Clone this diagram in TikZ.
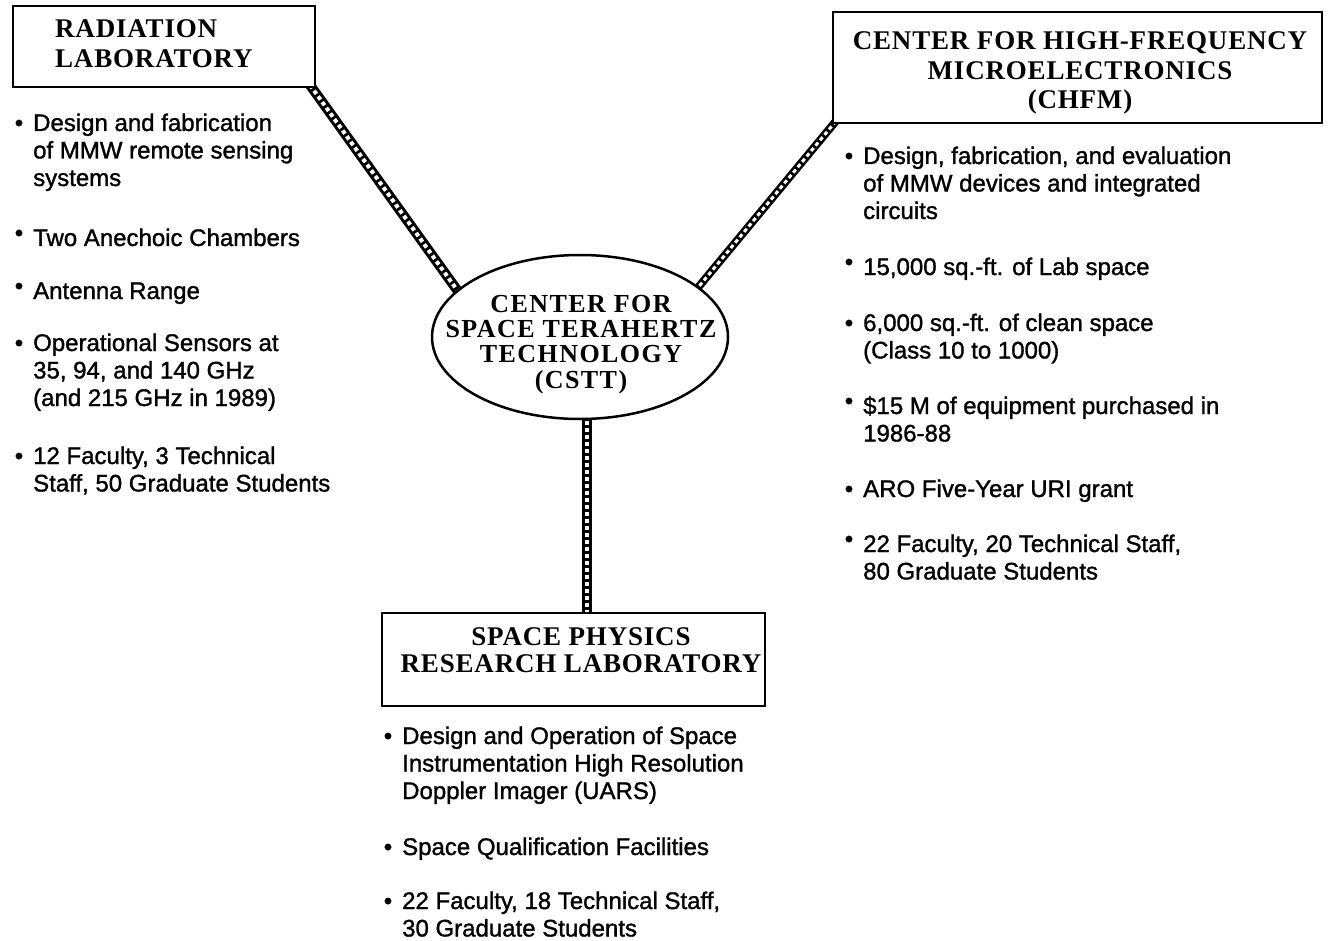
\documentclass[tikz,border=0pt]{standalone}
\usepackage{fontspec}
\setmainfont{Liberation Serif}
\newfontfamily\bodyfont{Liberation Sans}[FakeBold=1.3]
\newfontfamily\headfont{Liberation Serif}[LetterSpace=3]
\newfontfamily\ellfont{Liberation Serif}[LetterSpace=5.5]
\usetikzlibrary{shapes.geometric,calc}
\pgfdeclarelayer{bg}\pgfsetlayers{bg,main}
\tikzset{
  hbox/.style={draw, line width=2pt, fill=white, inner sep=0pt},
  head/.style={inner sep=0pt, align=center, font=\headfont\bfseries\fontsize{27}{29.5}\selectfont},
  item/.style={anchor=base west, inner sep=0pt, align=left, font=\bodyfont\fontsize{24}{27.5}\selectfont},
  railout/.style={line width=#1, draw=black},
  railin/.style={line width=#1, draw=white, dash pattern=on 4pt off 3pt},
}
\newcommand\bu{\llap{\textbullet\hspace{10pt}}}
\newcommand\bur{\llap{\raisebox{5pt}{\textbullet}\hspace{10pt}}}
\begin{document}
\begin{tikzpicture}[x=1pt,y=-1pt]
\useasboundingbox (0,0) rectangle (1329,941);
% boxes (text nodes anchored at the baseline of their last line)
\node[hbox, minimum width=302pt, minimum height=81pt] (rad) at (164,46.5) {};
\node[head, anchor=base west, align=left] (radT) at (55,67.5) {RADIATION\\LABORATORY};
\node[hbox, minimum width=489pt, minimum height=111pt] (chfm) at (1077.5,67.5) {};
\node[head, anchor=base] (chfmT) at (1080,109) {CENTER FOR HIGH-FREQUENCY\\MICROELECTRONICS\\(CHFM)};
\node[hbox, minimum width=383pt, minimum height=93pt] (sprl) at (573.5,659.5) {};
\node[head, anchor=base, font=\headfont\bfseries\fontsize{27}{27}\selectfont] (sprlT) at (581,672) {SPACE PHYSICS\\RESEARCH LABORATORY};
\node[draw, ellipse, line width=2.5pt, fill=white, minimum width=296pt, minimum height=164pt, inner sep=0pt] (cstt) at (580,337) {};
\node[head, anchor=base, font=\ellfont\bfseries\fontsize{26}{25.3}\selectfont] (csttT) at (581,388) {CENTER FOR\\SPACE TERAHERTZ\\TECHNOLOGY\\(CSTT)};
% connectors
\coordinate (c3) at (587,613);
\begin{pgfonlayer}{bg}
  \draw[railout=10pt] ($(rad.south east)+(-6,-3)$) -- ($(rad.south east)!1.04!(cstt.159)$);
  \draw[railin=4pt]  ($(rad.south east)+(-6,-3)$) -- ($(rad.south east)!1.04!(cstt.159)$);
  \draw[railout=8pt] ($(chfm.south west)+(4,-3)$) -- ($(chfm.south west)!1.04!(cstt.23)$);
  \draw[railin=3pt]  ($(chfm.south west)+(4,-3)$) -- ($(chfm.south west)!1.04!(cstt.23)$);
  \draw[railout=10pt] (c3 |- cstt.center) -- ($(c3)+(0,3)$);
  \draw[railin=4pt]  (c3 |- cstt.center) -- ($(c3)+(0,3)$);
\end{pgfonlayer}
% left list
\node[item] (l1) at (33,186) {\bu Design and fabrication\\of MMW remote sensing\\systems};
\node[item] (l2) at (33,246) {\bur Two Anechoic Chambers};
\node[item] (l3) at (33,299) {\bur Antenna Range};
\node[item] (l4) at (33,406) {\bu Operational Sensors at\\35, 94, and 140 GHz\\(and 215 GHz in 1989)};
\node[item] (l5) at (33,491.5) {\bu 12 Faculty, 3 Technical\\Staff, 50 Graduate Students};
% right list
\node[item] (r1) at (863,219) {\bu Design, fabrication, and evaluation\\of MMW devices and integrated\\circuits};
\node[item] (r2) at (863,275) {\bur 15,000 sq.-ft. of Lab space};
\node[item] (r3) at (863,358.5) {\bu 6,000 sq.-ft. of clean space\\(Class 10 to 1000)};
\node[item] (r4) at (863,441.5) {\bur \$15 M of equipment purchased in\\1986-88};
\node[item] (r5) at (863,497) {\bu ARO Five-Year URI grant};
\node[item] (r6) at (863,579.5) {\bur 22 Faculty, 20 Technical Staff,\\80 Graduate Students};
% bottom list
\node[item] (b1) at (402,799) {\bu Design and Operation of Space\\Instrumentation High Resolution\\Doppler Imager (UARS)};
\node[item] (b2) at (402,855) {\bu Space Qualification Facilities};
\node[item] (b3) at (402,936.5) {\bu 22 Faculty, 18 Technical Staff,\\30 Graduate Students};
\end{tikzpicture}
\end{document}
